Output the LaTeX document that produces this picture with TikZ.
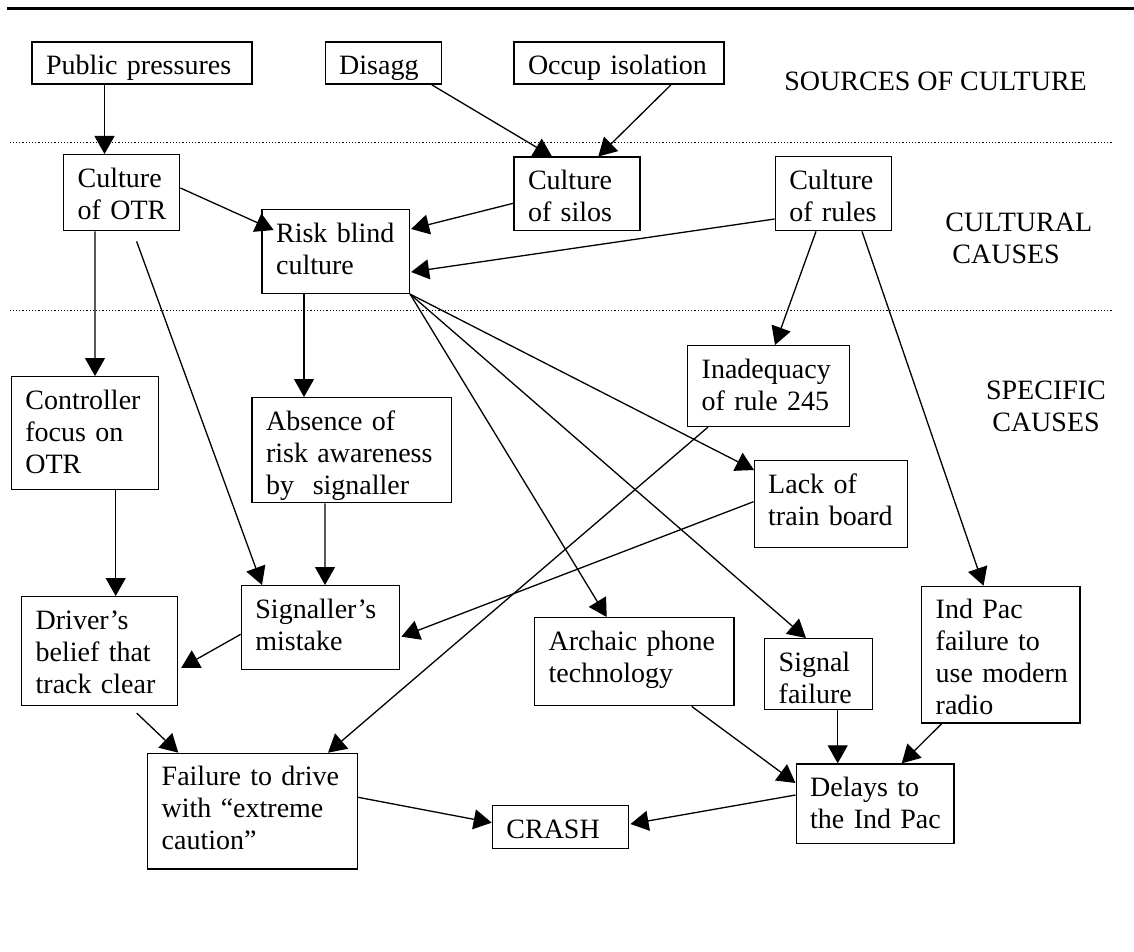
\documentclass[tikz,border=0pt]{standalone}
\usepackage{fontspec}
\setmainfont{Liberation Serif}
\usetikzlibrary{arrows.meta,calc}
\hyphenpenalty=10000

\begin{document}
\begin{tikzpicture}[x=0.5pt,y=-0.5pt,
                    font=\fontsize{14}{16}\selectfont,
                    cause/.style={draw,line width=0.7pt,anchor=north west,align=left,
                                  inner xsep=7pt,inner ysep=0pt,text height=16.25pt},
                    link/.style={line width=0.65pt,-{Triangle[length=9pt,width=10pt]}},
                    tier/.style={inner sep=0pt},
                    ]

                    \useasboundingbox (0,0) rectangle (1134,952);

                    \draw[line width=1.2pt] (7,8.5) -- (1134,8.5);
                    \draw[line width=0.5pt,dash pattern=on 0.6pt off 1pt] (9.6,142.7) -- (1113,142.7);
                    \draw[line width=0.5pt,dash pattern=on 0.6pt off 1pt] (9.6,310) -- (1113,310);

                    % sources
                    \node[cause,text width=96pt,text depth=4.75pt] (pp) at (31.4,41.5) {Public pressures};
                    \node[cause,text width=44pt,text depth=4.75pt] (disagg) at (324.5,41.5) {Disagg};
                    \node[cause,text width=91pt,text depth=4.75pt] (occup) at (513.3,41.5) {Occup~isolation};

                    % cultural causes
                    \node[cause,text width=44pt,text depth=21.75pt] (otr) at (63,154) {Culture\\of~OTR};
                    \node[cause,text width=49pt,text depth=20.5pt] (silos) at (513.3,156.5) {Culture\\of silos};
                    \node[cause,text width=44.1pt,text depth=20.75pt] (rules) at (774.6,156) {Culture\\of~rules};
                    \node[cause,text width=59.65pt,text depth=25.6pt] (risk) at (261.4,209) {Risk~blind\\culture};

                    % specific causes
                    \node[cause,text width=59.5pt,text depth=40.25pt] (ctrl) at (10.7,376) {Controller\\focus on\\OTR};
                    \node[cause,text width=85.7pt,text depth=36.25pt] (absence) at (251.4,397) {Absence of\\risk~awareness\\by\ \ signaller};
                    \node[cause,text width=66.85pt,text depth=24.1pt] (inadeq) at (687,345) {Inadequacy\\of rule 245};
                    \node[cause,text width=62.65pt,text depth=27.25pt] (lack) at (753.5,460) {Lack of\\train~board};
                    \node[cause,text width=65.15pt,text depth=25.75pt] (signaller) at (240.7,585) {Signaller's\\mistake};
                    \node[cause,text width=63.85pt,text depth=38.25pt] (driver) at (21,596) {Driver's\\belief that\\track clear};
                    \node[cause,text width=85.65pt,text depth=27.75pt] (archaic) at (534,617) {Archaic~phone\\technology};
                    \node[cause,text width=39.85pt,text depth=19.25pt] (signal) at (764,638) {Signal\\failure};
                    \node[cause,text width=65.15pt,text depth=52.05pt] (indpac) at (921,585.7) {Ind Pac\\failure to\\use~modern\\radio};
                    \node[cause,text width=90.85pt,text depth=41.55pt] (failure) at (147,752.7) {Failure to drive\\with ``extreme\\caution''};
                    \node[cause,text width=54pt,text depth=5.1pt] (crash) at (491.7,805) {CRASH};
                    \node[cause,text width=64.9pt,text depth=23.45pt] (delays) at (795.5,763.3) {Delays to\\the~Ind~Pac};

                    \node[tier,anchor=base west] (src) at (784,91) {SOURCES OF CULTURE};
                    \node[tier,anchor=base west,text width=80pt,align=left] (cult) at (945,232) {CULTURAL\\\hspace*{3.5pt}CAUSES};
                    \node[tier,anchor=base,text width=70pt,align=center] (spec) at (1046,399) {SPECIFIC\\CAUSES};

                    \draw[link] ($(pp.south west)+(73.1,0)$) -- ($(otr.north west)+(41.5,0)$);
                    \draw[link] ($(disagg.south east)+(-10,0)$) -- ($(silos.north west)+(38.7,0)$);
                    \draw[link] ($(occup.south east)+(-53.8,0)$) -- ($(silos.north west)+(85,0)$);

                    \draw[link] ($(otr.north east)+(0,34)$) -- ($(risk.north west)+(12.2,21)$);
                    \draw[link] ($(silos.north west)+(0,46.8)$) -- ($(risk.north east)+(1,20)$);
                    \draw[link] ($(rules.north west)+(0,63)$) -- ($(risk.north east)+(1,63)$);
                    \draw[link] ($(rules.south west)+(41.4,0)$) -- ($(inadeq.north west)+(88,0)$);
                    \draw[link] ($(rules.south west)+(87.4,0)$) -- ($(indpac.north west)+(62.5,0)$);

                    \draw[link] ($(otr.south west)+(32,0)$) -- ($(ctrl.north west)+(84.3,0)$);
                    \draw[link] ($(otr.south west)+(73.6,10)$) -- ($(signaller.north west)+(21.3,0)$);
                    \draw[link] ($(risk.south west)+(42.6,0)$) -- ($(absence.north west)+(52.6,0)$);
                    \draw[link] (risk.south east) -- ($(lack.north west)+(0.5,10)$);
                    \draw[link] (risk.south east) -- ($(archaic.north west)+(72.7,0)$);
                    \draw[link] (risk.south east) -- ($(signal.north west)+(42,0)$);

                    \draw[link] ($(absence.south west)+(73.6,0)$) -- ($(signaller.north west)+(84.3,0)$);
                    \draw[link] ($(ctrl.south west)+(105,0)$) -- ($(driver.north west)+(94.7,0)$);
                    \draw[link] ($(lack.north west)+(0,41.7)$) -- ($(signaller.north east)+(1,51.7)$);
                    \draw[link] ($(inadeq.south west)+(21,0)$) -- ($(failure.north west)+(181,0)$);
                    \draw[link] ($(signaller.north west)+(0,49.3)$) -- ($(driver.north east)+(3,72)$);
                    \draw[link] ($(driver.south west)+(115.7,6.7)$) -- ($(failure.north west)+(31.3,0)$);

                    \draw[link] ($(archaic.south west)+(157.7,0)$) -- ($(delays.north west)+(0,19.7)$);
                    \draw[link] ($(signal.south west)+(73.7,0)$) -- ($(delays.north west)+(42.2,0)$);
                    \draw[link] ($(indpac.south west)+(20.7,0)$) -- ($(delays.north west)+(106.2,0)$);
                    \draw[link] ($(failure.north east)+(0,44.6)$) -- ($(crash.north west)+(0,17.7)$);
                    \draw[link] ($(delays.north west)+(0,31.7)$) -- ($(crash.north east)+(1.4,19)$);

                \end{tikzpicture}
\end{document}
